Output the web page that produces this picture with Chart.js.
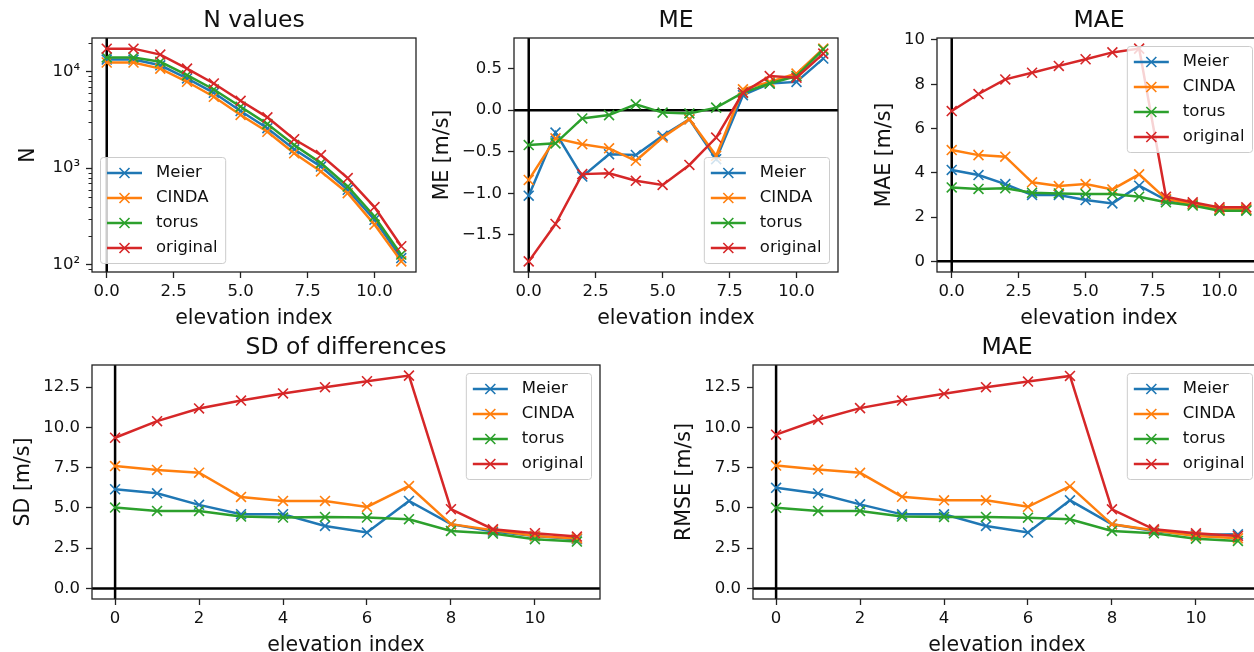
<!DOCTYPE html>
<html>
<head>
<meta charset="utf-8">
<script src="https://cdn.jsdelivr.net/npm/chart.js@4.4.0/dist/chart.umd.min.js"></script>
<style>
  html, body { margin: 0; padding: 0; background: #fff; overflow: hidden; }
  body { width: 1254px; height: 652px; position: relative; }
  canvas { position: absolute; }
  #nChart { left: 16px; top: 0px; }
  #meChart { left: 430px; top: 0px; }
  #maeChart { left: 872px; top: 0px; }
  #sdChart { left: 11px; top: 330px; }
  #rmseChart { left: 672px; top: 330px; }
</style>
</head>
<body>
<canvas id="nChart" width="410" height="335"></canvas>
<canvas id="meChart" width="418" height="335"></canvas>
<canvas id="maeChart" width="399" height="335"></canvas>
<canvas id="sdChart" width="599" height="340"></canvas>
<canvas id="rmseChart" width="599" height="340"></canvas>
<script>
const elevation = [0, 1, 2, 3, 4, 5, 6, 7, 8, 9, 10, 11];
const methods = ['Meier', 'CINDA', 'torus', 'original'];
const colors = ['#1f77b4', '#ff7f0e', '#2ca02c', '#d62728'];

// N values
const nMeier = [13400, 13400, 11700, 8540, 6060, 3920, 2600, 1570, 1040, 597, 292, 117];
const nCinda = [12500, 12500, 10800, 7890, 5510, 3570, 2390, 1430, 925, 551, 260, 108];
const nTorus = [14100, 14100, 12700, 9240, 6560, 4350, 2870, 1740, 1130, 646, 316, 127];
const nOriginal = [17400, 17400, 15100, 10800, 7570, 5010, 3370, 2000, 1370, 790, 395, 155];

// ME [m/s]
const meMeier = [-1.03, -0.27, -0.80, -0.53, -0.54, -0.31, -0.11, -0.59, 0.18, 0.32, 0.34, 0.62];
const meCinda = [-0.84, -0.34, -0.41, -0.46, -0.61, -0.33, -0.11, -0.55, 0.25, 0.34, 0.44, 0.74];
const meTorus = [-0.42, -0.40, -0.10, -0.06, 0.07, -0.03, -0.04, 0.03, 0.21, 0.32, 0.41, 0.73];
const meOriginal = [-1.82, -1.37, -0.77, -0.76, -0.85, -0.90, -0.66, -0.33, 0.21, 0.41, 0.39, 0.68];

// MAE [m/s]
const maeMeier = [4.13, 3.90, 3.49, 3.00, 3.00, 2.77, 2.62, 3.42, 2.77, 2.59, 2.32, 2.32];
const maeCinda = [5.03, 4.80, 4.73, 3.57, 3.40, 3.49, 3.25, 3.93, 2.82, 2.59, 2.36, 2.36];
const maeTorus = [3.34, 3.27, 3.30, 3.10, 3.07, 3.04, 3.04, 2.92, 2.67, 2.52, 2.29, 2.29];
const maeOriginal = [6.79, 7.56, 8.22, 8.52, 8.83, 9.13, 9.44, 9.61, 2.92, 2.67, 2.44, 2.44];

// SD of differences [m/s]
const sdMeier = [6.16, 5.91, 5.19, 4.61, 4.61, 3.88, 3.47, 5.43, 3.99, 3.53, 3.26, 3.06];
const sdCinda = [7.60, 7.36, 7.19, 5.68, 5.43, 5.43, 5.06, 6.36, 3.99, 3.62, 3.26, 3.10];
const sdTorus = [5.02, 4.81, 4.81, 4.46, 4.40, 4.44, 4.40, 4.30, 3.57, 3.41, 3.06, 2.91];
const sdOriginal = [9.36, 10.39, 11.18, 11.67, 12.11, 12.50, 12.87, 13.22, 4.92, 3.68, 3.43, 3.22];

// RMSE [m/s]
const rmseMeier = [6.25, 5.90, 5.22, 4.60, 4.60, 3.88, 3.47, 5.47, 3.98, 3.57, 3.32, 3.36];
const rmseCinda = [7.63, 7.38, 7.18, 5.69, 5.47, 5.47, 5.07, 6.35, 3.98, 3.61, 3.26, 3.11];
const rmseTorus = [5.01, 4.81, 4.81, 4.46, 4.44, 4.44, 4.39, 4.29, 3.57, 3.42, 3.09, 2.95];
const rmseOriginal = [9.55, 10.48, 11.20, 11.67, 12.09, 12.50, 12.85, 13.20, 4.91, 3.67, 3.42, 3.26];

// tick values / labels
const topXTicks = [0, 2.5, 5, 7.5, 10];
const bottomXTicks = [0, 2, 4, 6, 8, 10];
const nMajorTicks = [100, 1000, 10000];
const nTickLabels = ['10²', '10³', '10⁴'];
const nMinorTicks = [90, 200, 300, 400, 500, 600, 700, 800, 900,
  2000, 3000, 4000, 5000, 6000, 7000, 8000, 9000, 20000];
const meTicks = [-1.5, -1.0, -0.5, 0.0, 0.5];
const maeTicks = [0, 2, 4, 6, 8, 10];
const sdTicks = [0, 2.5, 5, 7.5, 10, 12.5];

const FONT = 'DejaVu Sans';
const INK = '#111';
Chart.defaults.font.family = FONT;
Chart.defaults.color = INK;

// black lines at x=0 (and y=0 on linear panels)
const zeroLines = {
  id: 'zeroLines',
  beforeDatasetsDraw(chart, args, opts) {
    const { ctx, chartArea: a, scales } = chart;
    ctx.save();
    ctx.beginPath();
    ctx.rect(a.left, a.top, a.right - a.left, a.bottom - a.top);
    ctx.clip();
    ctx.strokeStyle = '#000';
    ctx.lineWidth = 2.5;
    const x0 = scales.x.getPixelForValue(0);
    ctx.beginPath();
    ctx.moveTo(x0, a.top);
    ctx.lineTo(x0, a.bottom);
    if (opts.horizontal) {
      const y0 = scales.y.getPixelForValue(0);
      ctx.moveTo(a.left, y0);
      ctx.lineTo(a.right, y0);
    }
    ctx.stroke();
    ctx.restore();
  }
};

// matplotlib style box round the plot + short minor ticks
const frame = {
  id: 'frame',
  afterDatasetsDraw(chart, args, opts) {
    const { ctx, chartArea: a, scales } = chart;
    ctx.save();
    ctx.strokeStyle = '#222';
    ctx.lineWidth = 1.3;
    ctx.strokeRect(a.left, a.top, a.right - a.left, a.bottom - a.top);
    if (opts.minor) {
      ctx.lineWidth = 1;
      ctx.beginPath();
      opts.minor.forEach(v => {
        const y = Math.round(scales.y.getPixelForValue(v)) + 0.5;
        ctx.moveTo(a.left - 3.5, y);
        ctx.lineTo(a.left, y);
      });
      ctx.stroke();
    }
    ctx.restore();
  }
};

// legend drawn inside the plot area
const insideLegend = {
  id: 'insideLegend',
  afterDraw(chart, args, opts) {
    const { ctx, chartArea: a } = chart;
    const sets = chart.data.datasets;
    ctx.save();
    ctx.font = '16.5px "' + FONT + '"';
    const textW = Math.max(...sets.map(d => ctx.measureText(d.label).width));
    const w = 6.5 + 35 + 14 + textW + 8;
    const h = 106;
    const x = opts.corner.includes('right') ? a.right - 8.5 - w : a.left + 8.5;
    const y = opts.corner.includes('lower') ? a.bottom - 8.5 - h : a.top + 8.5;
    ctx.beginPath();
    if (ctx.roundRect) ctx.roundRect(x, y, w, h, 3);
    else ctx.rect(x, y, w, h);
    ctx.fillStyle = 'rgba(255,255,255,0.8)';
    ctx.fill();
    ctx.strokeStyle = '#cccccc';
    ctx.lineWidth = 1;
    ctx.stroke();
    sets.forEach((d, i) => {
      const cy = y + 15.5 + i * 25;
      const cx = x + 24;
      ctx.strokeStyle = d.borderColor;
      ctx.lineWidth = 2.5;
      ctx.beginPath();
      ctx.moveTo(x + 6.5, cy);
      ctx.lineTo(x + 41.5, cy);
      ctx.stroke();
      ctx.lineWidth = 1.6;
      ctx.beginPath();
      ctx.moveTo(cx - 5, cy - 5); ctx.lineTo(cx + 5, cy + 5);
      ctx.moveTo(cx - 5, cy + 5); ctx.lineTo(cx + 5, cy - 5);
      ctx.stroke();
      ctx.fillStyle = INK;
      ctx.textBaseline = 'middle';
      ctx.textAlign = 'left';
      ctx.fillText(d.label, x + 55.5, cy);
    });
    ctx.restore();
  }
};

function makeDatasets(series) {
  return series.map((vals, i) => ({
    label: methods[i],
    data: elevation.map((e, j) => ({ x: e, y: vals[j] })),
    borderColor: colors[i],
    backgroundColor: colors[i],
    borderWidth: 2.5,
    tension: 0,
    pointStyle: 'crossRot',
    pointRadius: 7,
    pointBorderWidth: 1.6,
    order: series.length - 1 - i
  }));
}

function makePanel(id, cfg) {
  const tickFont = { size: 16.5 };
  const labelFont = { size: 20.5, lineHeight: 1.2 };
  const isLog = cfg.yType === 'logarithmic';
  return new Chart(document.getElementById(id), {
    type: 'line',
    data: { datasets: makeDatasets(cfg.series) },
    options: {
      responsive: false,
      animation: false,
      events: [],
      layout: { padding: { left: 0, right: 10, top: 0, bottom: 0 } },
      plugins: {
        legend: { display: false },
        tooltip: { enabled: false },
        title: {
          display: true, fullSize: false, text: cfg.title, color: INK,
          font: { size: 23.5, weight: 'normal', lineHeight: 1.2 },
          padding: cfg.titlePad
        },
        insideLegend: { corner: cfg.legend },
        zeroLines: { horizontal: !isLog },
        frame: { minor: isLog ? nMinorTicks : null }
      },
      scales: {
        x: {
          type: 'linear', min: -0.55, max: 11.55, bounds: 'data',
          afterFit: s => { s.height = cfg.padB; },
          afterBuildTicks: s => { s.ticks = cfg.xTicks.map(v => ({ value: v })); },
          ticks: { autoSkip: false, maxRotation: 0, padding: 4, font: tickFont, color: INK,
            callback: v => v.toFixed(cfg.xDec) },
          grid: { drawOnChartArea: false, drawTicks: true, tickLength: 6, tickColor: '#222', tickWidth: 1.3 },
          border: { display: false },
          title: { display: true, text: 'elevation index', color: INK, font: labelFont,
            padding: { top: 0, bottom: cfg.xTitlePad } }
        },
        y: {
          type: cfg.yType, min: cfg.yMin, max: cfg.yMax, bounds: 'data',
          afterFit: s => { s.width = cfg.padL; },
          afterBuildTicks: s => { s.ticks = cfg.yTicks.map(v => ({ value: v })); },
          ticks: { autoSkip: false, padding: 6, font: tickFont, color: INK,
            callback: cfg.yFormat },
          grid: { drawOnChartArea: false, drawTicks: true, tickLength: 6, tickColor: '#222', tickWidth: 1.3 },
          border: { display: false },
          title: { display: true, text: cfg.yTitle, color: INK, font: labelFont,
            padding: { top: 0, bottom: 0 } }
        }
      }
    },
    plugins: [zeroLines, frame, insideLegend]
  });
}

const fmt1 = v => v.toFixed(1).replace('-', '\u2212');
const topTitlePad = { top: 7.2, bottom: 2.6 };
const bottomTitlePad = { top: 3.9, bottom: 2.9 };

makePanel('nChart', {
  title: 'N values', yTitle: 'N', series: [nMeier, nCinda, nTorus, nOriginal],
  yType: 'logarithmic', yMin: 83.8, yMax: 22440, yTicks: nMajorTicks,
  yFormat: v => nTickLabels[nMajorTicks.indexOf(v)] || '',
  xTicks: topXTicks, xDec: 1, padL: 76, padB: 63, xTitlePad: 3.7,
  titlePad: topTitlePad, legend: 'lower left'
});

makePanel('meChart', {
  title: 'ME', yTitle: 'ME [m/s]', series: [meMeier, meCinda, meTorus, meOriginal],
  yType: 'linear', yMin: -1.948, yMax: 0.868, yTicks: meTicks, yFormat: fmt1,
  xTicks: topXTicks, xDec: 1, padL: 84, padB: 63, xTitlePad: 3.7,
  titlePad: topTitlePad, legend: 'lower right'
});

makePanel('maeChart', {
  title: 'MAE', yTitle: 'MAE [m/s]', series: [maeMeier, maeCinda, maeTorus, maeOriginal],
  yType: 'linear', yMin: -0.48, yMax: 10.09, yTicks: maeTicks, yFormat: v => String(v),
  xTicks: topXTicks, xDec: 1, padL: 65, padB: 63, xTitlePad: 3.7,
  titlePad: topTitlePad, legend: 'upper right'
});

makePanel('sdChart', {
  title: 'SD of differences', yTitle: 'SD [m/s]', series: [sdMeier, sdCinda, sdTorus, sdOriginal],
  yType: 'linear', yMin: -0.66, yMax: 13.88, yTicks: sdTicks, yFormat: fmt1,
  xTicks: bottomXTicks, xDec: 0, padL: 81, padB: 71, xTitlePad: 11.7,
  titlePad: bottomTitlePad, legend: 'upper right'
});

makePanel('rmseChart', {
  title: 'MAE', yTitle: 'RMSE [m/s]', series: [rmseMeier, rmseCinda, rmseTorus, rmseOriginal],
  yType: 'linear', yMin: -0.66, yMax: 13.88, yTicks: sdTicks, yFormat: fmt1,
  xTicks: bottomXTicks, xDec: 0, padL: 81, padB: 71, xTitlePad: 11.7,
  titlePad: bottomTitlePad, legend: 'upper right'
});
</script>
</body>
</html>
